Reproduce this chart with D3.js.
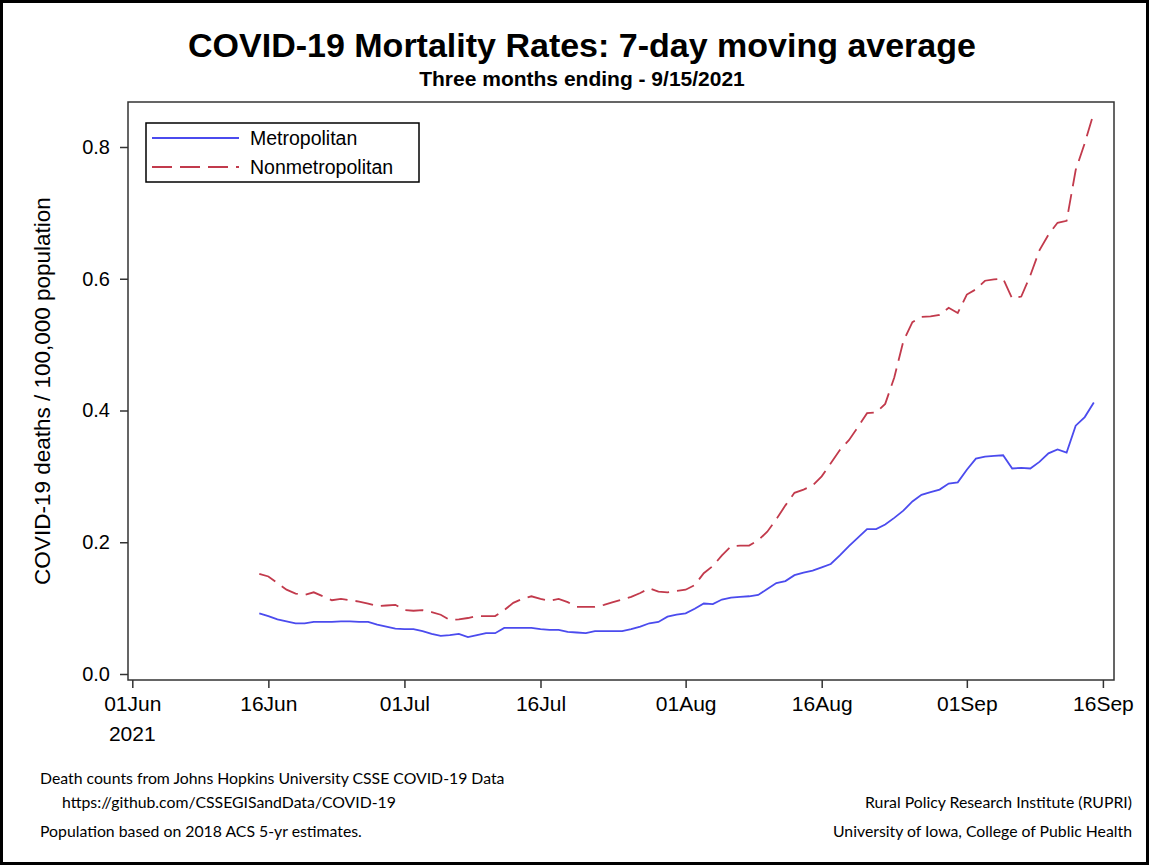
<!DOCTYPE html>
<html>
<head>
<meta charset="utf-8">
<script src="https://cdn.jsdelivr.net/npm/d3@7"></script>
<style>
  body { margin: 0; background: #fff; }
  svg { display: block; }
</style>
</head>
<body>
<svg id="chart" width="1152" height="867"></svg>
<script>
// --- Data (7-day moving average, deaths per 100,000) ---
const startDate = "2021-06-15";
const metroRates = [
  0.092, 0.088, 0.083, 0.080, 0.077, 0.077, 0.079, 0.079, 0.079, 0.080,
  0.080, 0.079, 0.079, 0.075, 0.072, 0.069, 0.068, 0.068, 0.065, 0.061,
  0.058, 0.059, 0.061, 0.056, 0.059, 0.062, 0.062, 0.070, 0.070, 0.070,
  0.070, 0.068, 0.067, 0.067, 0.064, 0.063, 0.062, 0.065, 0.065, 0.065,
  0.065, 0.068, 0.072, 0.077, 0.079, 0.087, 0.090, 0.092, 0.099, 0.107,
  0.106, 0.113, 0.116, 0.117, 0.118, 0.120, 0.129, 0.138, 0.141, 0.150,
  0.154, 0.157, 0.162, 0.167, 0.180, 0.194, 0.207, 0.220, 0.220, 0.227,
  0.237, 0.248, 0.262, 0.272, 0.276, 0.280, 0.289, 0.291, 0.310, 0.327,
  0.330, 0.331, 0.332, 0.312, 0.313, 0.312, 0.322, 0.335, 0.341, 0.336,
  0.377, 0.390, 0.412
];
const nonmetroRates = [
  0.152, 0.148, 0.138, 0.128, 0.122, 0.120, 0.124, 0.118, 0.112, 0.114,
  0.112, 0.110, 0.107, 0.103, 0.104, 0.105, 0.097, 0.096, 0.097, 0.094,
  0.090, 0.082, 0.083, 0.085, 0.088, 0.088, 0.088, 0.097, 0.108, 0.114,
  0.118, 0.114, 0.111, 0.114, 0.109, 0.102, 0.102, 0.102, 0.105, 0.109,
  0.113, 0.117, 0.123, 0.130, 0.125, 0.124, 0.126, 0.128, 0.135, 0.153,
  0.164, 0.180, 0.194, 0.195, 0.195, 0.203, 0.216, 0.235, 0.256, 0.275,
  0.280, 0.286, 0.300, 0.320, 0.340, 0.355, 0.375, 0.396, 0.397, 0.410,
  0.450, 0.505, 0.534, 0.542, 0.543, 0.545, 0.556, 0.548, 0.576, 0.584,
  0.597, 0.599, 0.600, 0.570, 0.573, 0.605, 0.643, 0.667, 0.685, 0.688,
  0.765, 0.806, 0.852
];
const xTickDates = ["2021-06-01", "2021-06-16", "2021-07-01", "2021-07-16",
  "2021-08-01", "2021-08-16", "2021-09-01", "2021-09-16"];
const yTicks = [0, 0.2, 0.4, 0.6, 0.8];
const seriesNames = ["Metropolitan", "Nonmetropolitan"];

const parseDate = d3.utcParse("%Y-%m-%d");
const day0 = parseDate(startDate);
const toPoints = (vals) => vals.map((v, i) => ({ date: d3.utcDay.offset(day0, i), v }));

// --- Layout ---
const svg = d3.select("#chart");
const frame = { left: 128, top: 102, right: 1114, bottom: 680 };
const font = "'Liberation Sans', Arial, sans-serif";
const noteFont = "Lato, 'Open Sans', sans-serif";

const x = d3.scaleUtc()
  .domain([parseDate("2021-06-01"), parseDate("2021-09-16")])
  .range([132.3, 1102.9]);
const y = d3.scaleLinear().domain([0, 0.8]).range([674, 147]);

// outer border
svg.append("rect")
  .attr("x", 1.5).attr("y", 1.5)
  .attr("width", 1146).attr("height", 862)
  .attr("fill", "none").attr("stroke", "#000").attr("stroke-width", 3);

// titles
svg.append("text")
  .attr("x", 582).attr("y", 57)
  .attr("text-anchor", "middle")
  .attr("font-family", font).attr("font-weight", "bold").attr("font-size", 34)
  .text("COVID-19 Mortality Rates: 7-day moving average");
svg.append("text")
  .attr("x", 582).attr("y", 86)
  .attr("text-anchor", "middle")
  .attr("font-family", font).attr("font-weight", "bold").attr("font-size", 21)
  .text("Three months ending - 9/15/2021");

// axes
const xAxis = d3.axisBottom(x)
  .tickValues(xTickDates.map(parseDate))
  .tickSize(8).tickPadding(8)
  .tickFormat(d3.utcFormat("%d%b"));
const gx = svg.append("g")
  .attr("transform", `translate(0,${frame.bottom})`)
  .call(xAxis);
gx.select(".domain").remove();
gx.selectAll("text").attr("font-family", font).attr("font-size", 21).attr("fill", "#000");
gx.selectAll("line").attr("stroke", "#333").attr("stroke-width", 1.5);
gx.append("text")
  .attr("x", x(parseDate("2021-06-01"))).attr("y", 61)
  .attr("text-anchor", "middle")
  .attr("font-family", font).attr("font-size", 21).attr("fill", "#000")
  .text("2021");

const yAxis = d3.axisLeft(y)
  .tickValues(yTicks)
  .tickSize(8).tickPadding(10)
  .tickFormat(d3.format(".1f"));
const gy = svg.append("g")
  .attr("transform", `translate(${frame.left},0)`)
  .call(yAxis);
gy.select(".domain").remove();
gy.selectAll("text").attr("font-family", font).attr("font-size", 20).attr("fill", "#000");
gy.selectAll("line").attr("stroke", "#333").attr("stroke-width", 1.5);

svg.append("text")
  .attr("transform", "translate(50,391) rotate(-90)")
  .attr("text-anchor", "middle")
  .attr("font-family", font).attr("font-size", 22.5)
  .text("COVID-19 deaths / 100,000 population");

// lines
const line = d3.line().x((d) => x(d.date)).y((d) => y(d.v));
svg.append("path")
  .datum(toPoints(metroRates))
  .attr("d", line)
  .attr("fill", "none").attr("stroke", "#4b4bee").attr("stroke-width", 1.8);
svg.append("path")
  .datum(toPoints(nonmetroRates))
  .attr("d", line)
  .attr("fill", "none").attr("stroke", "#c23a4c").attr("stroke-width", 1.8)
  .attr("stroke-dasharray", "18,8");

// plot frame
svg.append("rect")
  .attr("x", frame.left).attr("y", frame.top)
  .attr("width", frame.right - frame.left).attr("height", frame.bottom - frame.top)
  .attr("fill", "none").attr("stroke", "#333").attr("stroke-width", 1.5);

// legend
const legend = svg.append("g").attr("transform", "translate(146,123)");
legend.append("rect")
  .attr("width", 273).attr("height", 59)
  .attr("fill", "#fff").attr("stroke", "#000").attr("stroke-width", 1.5);
const legendStyles = [
  { color: "#4b4bee", dash: null },
  { color: "#c23a4c", dash: "20,8" }
];
seriesNames.forEach((name, i) => {
  const ly = 15 + i * 29;
  legend.append("line")
    .attr("x1", 6).attr("x2", 93).attr("y1", ly).attr("y2", ly)
    .attr("stroke", legendStyles[i].color).attr("stroke-width", 1.8)
    .attr("stroke-dasharray", legendStyles[i].dash);
  legend.append("text")
    .attr("x", 104).attr("y", ly + 7)
    .attr("font-family", font).attr("font-size", 19.5)
    .text(name);
});

// footnotes
const notesLeft = [
  { text: "Death counts from Johns Hopkins University CSSE COVID-19 Data", x: 40, y: 784 },
  { text: "https://github.com/CSSEGISandData/COVID-19", x: 62, y: 808 },
  { text: "Population based on 2018 ACS 5-yr estimates.", x: 40, y: 837 }
];
const notesRight = [
  { text: "Rural Policy Research Institute (RUPRI)", y: 808 },
  { text: "University of Iowa, College of Public Health", y: 837 }
];
notesLeft.forEach((n) => {
  svg.append("text").attr("x", n.x).attr("y", n.y)
    .attr("font-family", noteFont).attr("font-size", 15.8)
    .text(n.text);
});
notesRight.forEach((n) => {
  svg.append("text").attr("x", 1132).attr("y", n.y)
    .attr("text-anchor", "end")
    .attr("font-family", noteFont).attr("font-size", 15.8)
    .text(n.text);
});
</script>
</body>
</html>
